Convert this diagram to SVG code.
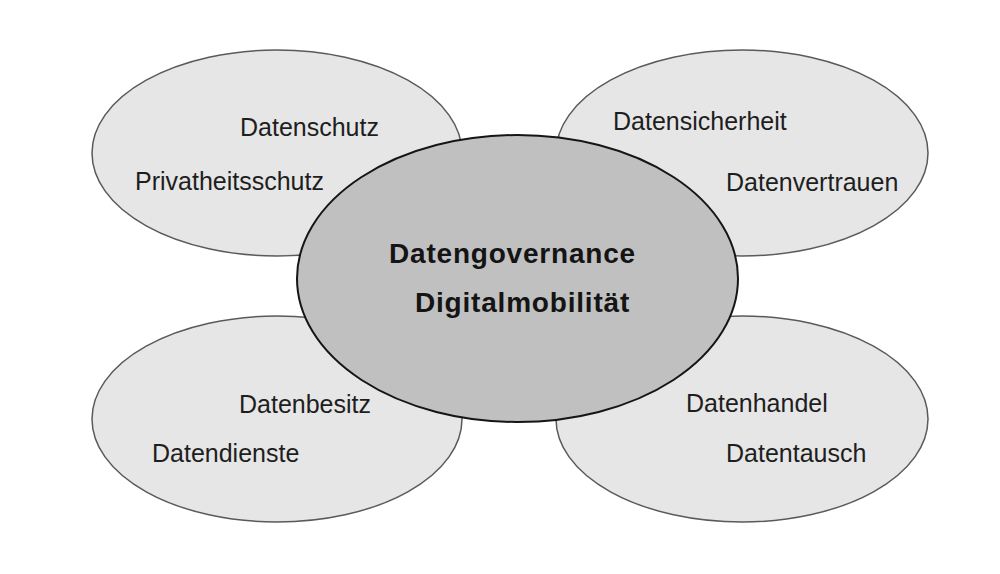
<svg xmlns="http://www.w3.org/2000/svg" width="1000" height="574" viewBox="0 0 1000 574">
<style>
.outer{fill:#e6e6e6;stroke:#5a5a5a;stroke-width:1.5}
.core{fill:#c0c0c0;stroke:#151515;stroke-width:2}
.t{font-family:"Liberation Sans",Arial,sans-serif;font-size:25px;fill:#1e1e1e}
.b{font-family:"Liberation Sans",Arial,sans-serif;font-size:28px;font-weight:bold;letter-spacing:0.8px;fill:#141414}
</style>
<rect width="1000" height="574" fill="#ffffff"/>
<g id="node-datenschutz">
<ellipse class="outer" cx="277" cy="153" rx="185" ry="103"/>
<text class="t" x="240" y="136">Datenschutz</text>
<text class="t" x="135" y="190">Privatheitsschutz</text>
</g>
<g id="node-datensicherheit">
<ellipse class="outer" cx="742" cy="153" rx="186" ry="103"/>
<text class="t" x="613" y="130">Datensicherheit</text>
<text class="t" x="726" y="191">Datenvertrauen</text>
</g>
<g id="node-datenbesitz">
<ellipse class="outer" cx="277" cy="419" rx="185" ry="103"/>
<text class="t" x="239" y="413">Datenbesitz</text>
<text class="t" x="152" y="462">Datendienste</text>
</g>
<g id="node-datenhandel">
<ellipse class="outer" cx="742" cy="419" rx="186" ry="103"/>
<text class="t" x="686" y="412">Datenhandel</text>
<text class="t" x="726" y="462">Datentausch</text>
</g>
<g id="connectors"></g>
<g id="node-center">
<ellipse class="core" cx="517.5" cy="278.5" rx="220.5" ry="143.5"/>
<text class="b" x="389" y="263">Datengovernance</text>
<text class="b" x="415" y="312">Digitalmobilität</text>
</g>
</svg>
